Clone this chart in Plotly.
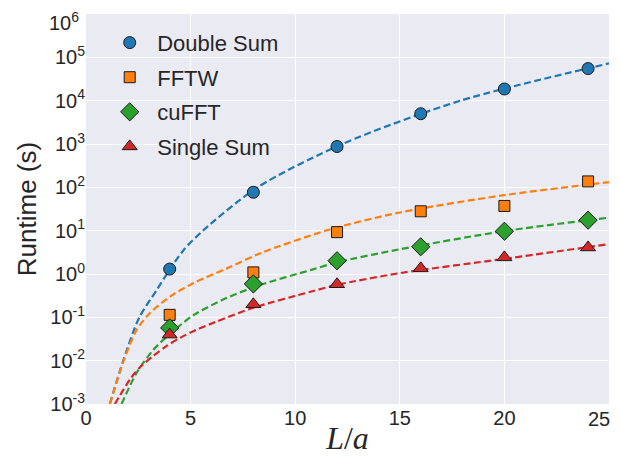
import plotly.graph_objects as go

# measured data
L = [4, 8, 12, 16, 20, 24]
double_sum = [1.30, 77, 875, 5000, 18600, 55000]
fftw = [0.114, 1.09, 9.25, 28, 37.2, 137]
cufft = [0.057, 0.59, 2.02, 4.25, 9.7, 17.5]
single_sum = [0.040, 0.20, 0.58, 1.35, 2.42, 4.1]

# fit curves (x, log10 of runtime)
fit_double_x = [1.14, 1.78, 2.55, 3.38, 4.0, 4.66, 5.59, 8.2, 12.25, 17.9, 25]
fit_double_log = [-3, -2, -1, -0.37, 0.1, 0.55, 1, 2, 3, 4, 4.86]
fit_fftw_x = [1.14, 1.8, 2.42, 3.06, 4.02, 5.14, 6.74, 8.34, 11.6, 15, 20, 25]
fit_fftw_log = [-3, -2, -1.29, -0.9, -0.52, -0.21, 0.13, 0.48, 1.02, 1.42, 1.82, 2.12]
fit_cufft_x = [1.7, 2.42, 3.22, 4.02, 5.14, 6.74, 8.34, 10.73, 12, 15, 20, 25]
fit_cufft_log = [-3, -2.28, -1.75, -1.38, -0.95, -0.55, -0.25, 0.09, 0.27, 0.57, 0.99, 1.30]
fit_single_x = [1.38, 2.15, 2.63, 3.19, 3.83, 4.47, 5.27, 6.23, 8, 10.73, 12, 15, 20, 25]
fit_single_log = [-3, -2.4, -2.13, -1.9, -1.67, -1.48, -1.29, -1.10, -0.78, -0.41, -0.25, 0.02, 0.35, 0.69]

names = ["Double Sum", "FFTW", "cuFFT", "Single Sum"]
colors = ["#1f77b4", "#ff7f0e", "#2ca02c", "#d62728"]
symbols = ["circle", "square", "diamond", "triangle-up"]
sizes = [12, 11, 14, 13]

y_tickvals = [1e-3, 1e-2, 1e-1, 1, 1e1, 1e2, 1e3, 1e4, 1e5, 1e6]
y_ticktext = ["10<sup>-3</sup>", "10<sup>-2</sup>", "10<sup>-1</sup>", "10<sup>0</sup>",
              "10<sup>1</sup>", "10<sup>2</sup>", "10<sup>3</sup>", "10<sup>4</sup>",
              "10<sup>5</sup>", "10<sup>6</sup>"]
x_tickvals = [0, 5, 10, 15, 20, 25]
x_ticktext = ["0", "5", "10", "15", "20", "25"]

fig = go.Figure()
fits = [(fit_double_x, fit_double_log), (fit_fftw_x, fit_fftw_log),
        (fit_cufft_x, fit_cufft_log), (fit_single_x, fit_single_log)]
for (fx, flog), c in zip(fits, colors):
    fig.add_trace(go.Scatter(x=fx, y=[10 ** v for v in flog], mode="lines", showlegend=False,
                             line=dict(color=c, width=2.2, dash="7px,3.5px", shape="spline", smoothing=0.8),
                             hoverinfo="skip"))

for i, (vals, n) in enumerate(zip([double_sum, fftw, cufft, single_sum], names)):
    fig.add_trace(go.Scatter(x=L, y=vals, mode="markers", name=n, legendgroup=n,
                             marker=dict(symbol=symbols[i], size=sizes[i], color=colors[i],
                                         line=dict(color="#1a1a1a", width=1))))

# edge tick labels drawn as annotations so that they stay inside the page
y_ticktext_shown = y_ticktext[:-1] + [""]
x_ticktext_shown = x_ticktext[:-1] + [""]
fig.add_annotation(text=y_ticktext[-1], xref="paper", x=0, xanchor="right", xshift=-5,
                   yref="y", y=6, yanchor="top", yshift=7, showarrow=False,
                   font=dict(size=20, color="#262626"))
fig.add_annotation(text=x_ticktext[-1], xref="paper", x=1, xanchor="right", xshift=3,
                   yref="paper", y=0, yanchor="middle", yshift=-15, showarrow=False,
                   font=dict(size=20, color="#262626"))

fig.update_layout(
    width=604, height=448,
    margin=dict(l=78, r=3, t=6, b=52),
    paper_bgcolor="white", plot_bgcolor="#EAEAF2",
    font=dict(family="Liberation Sans, Arial, sans-serif", size=20, color="#262626"),
    legend=dict(x=0.031, y=0.98, xanchor="left", yanchor="top", bgcolor="rgba(0,0,0,0)",
                font=dict(size=22, color="#262626"), tracegroupgap=3, itemwidth=45),
    xaxis=dict(range=[0, 25], tickvals=x_tickvals, ticktext=x_ticktext_shown, showgrid=True,
               gridcolor="white", gridwidth=1.2, zeroline=False, showline=False, ticks="",
               automargin=False, ticklabeloverflow="allow",
               title=dict(text="<i>L</i>/<i>a</i>", font=dict(family="Liberation Serif, serif", size=32), standoff=2)),
    yaxis=dict(type="log", range=[-3, 6], tickvals=y_tickvals, ticktext=y_ticktext_shown,
               showgrid=True, gridcolor="white", gridwidth=1.2, zeroline=False,
               showline=False, ticks="", automargin=False, ticklabeloverflow="allow",
               title=dict(text="Runtime (s)", font=dict(size=26), standoff=6)),
)

fig.write_html("out.html")
